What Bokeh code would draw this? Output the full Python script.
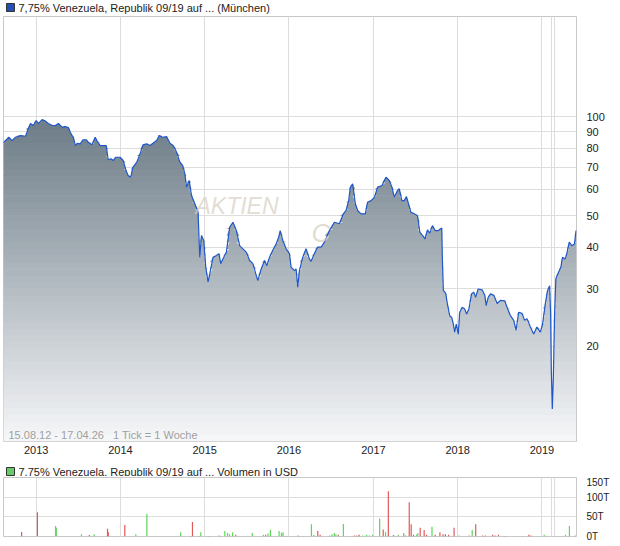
import numpy as np
from datetime import datetime
from bokeh.plotting import figure
from bokeh.models import (Range1d, FixedTicker, DatetimeAxis, LogAxis, LinearAxis, Grid, Label,
                          BoxAnnotation, DatetimeTickFormatter, CustomJSTickFormatter)
from bokeh.layouts import column
from bokeh.embed import file_html
from bokeh.resources import INLINE

# ---------------- data ----------------
price_year = [
    2012.610, 2012.676, 2012.716, 2012.755, 2012.814, 2012.874, 2012.913, 2012.933, 2012.968, 2013.000,
    2013.027, 2013.071, 2013.110, 2013.145, 2013.193, 2013.228, 2013.264, 2013.307, 2013.346, 2013.382,
    2013.405, 2013.426, 2013.441, 2013.465, 2013.488, 2013.524, 2013.556, 2013.595, 2013.618, 2013.662,
    2013.701, 2013.725, 2013.760, 2013.831, 2013.855, 2013.887, 2013.914, 2013.946, 2013.996, 2014.032,
    2014.067, 2014.091, 2014.123, 2014.147, 2014.194, 2014.233, 2014.268, 2014.312, 2014.351, 2014.387,
    2014.430, 2014.461, 2014.501, 2014.548, 2014.587, 2014.626, 2014.667, 2014.706, 2014.738, 2014.765,
    2014.785, 2014.816, 2014.844, 2014.883, 2014.922, 2014.934, 2014.942, 2014.962, 2014.989, 2015.013,
    2015.040, 2015.060, 2015.099, 2015.139, 2015.170, 2015.190, 2015.217, 2015.258, 2015.297, 2015.336,
    2015.376, 2015.415, 2015.454, 2015.494, 2015.533, 2015.572, 2015.612, 2015.631, 2015.671, 2015.710,
    2015.738, 2015.769, 2015.808, 2015.849, 2015.879, 2015.896, 2015.927, 2015.967, 2016.006, 2016.026,
    2016.065, 2016.085, 2016.104, 2016.124, 2016.163, 2016.203, 2016.242, 2016.262, 2016.301, 2016.340,
    2016.381, 2016.420, 2016.479, 2016.538, 2016.597, 2016.644, 2016.676, 2016.707, 2016.727, 2016.754,
    2016.786, 2016.813, 2016.853, 2016.904, 2016.931, 2016.972, 2017.011, 2017.050, 2017.102, 2017.149,
    2017.188, 2017.220, 2017.247, 2017.286, 2017.306, 2017.338, 2017.365, 2017.392, 2017.416, 2017.444,
    2017.483, 2017.522, 2017.551, 2017.581, 2017.613, 2017.641, 2017.669, 2017.700, 2017.732, 2017.771,
    2017.811, 2017.818, 2017.830, 2017.858, 2017.877, 2017.905, 2017.929, 2017.948, 2017.964, 2017.983,
    2018.007, 2018.024, 2018.054, 2018.083, 2018.106, 2018.133, 2018.165, 2018.193, 2018.213, 2018.243,
    2018.291, 2018.322, 2018.338, 2018.362, 2018.390, 2018.429, 2018.468, 2018.508, 2018.559, 2018.586,
    2018.626, 2018.665, 2018.693, 2018.724, 2018.763, 2018.795, 2018.822, 2018.863, 2018.902, 2018.941,
    2018.981, 2019.008, 2019.040, 2019.067, 2019.091, 2019.103, 2019.111, 2019.123, 2019.135, 2019.150,
    2019.165, 2019.197, 2019.224, 2019.244, 2019.276, 2019.295, 2019.324, 2019.354, 2019.386, 2019.405,
]
price = [
    83.2, 86.5, 84.5, 86.5, 87.5, 87.1, 92.8, 95.2, 93.9, 97.2,
    95.2, 97.9, 96.8, 95.2, 93.9, 93.9, 95.2, 92.8, 93.2, 92.6,
    89.6, 87.5, 86.5, 81.6, 82.9, 82.6, 85.0, 85.0, 83.5, 82.0,
    86.5, 84.1, 81.6, 81.6, 73.9, 74.4, 73.5, 75.2, 75.2, 73.5,
    68.5, 66.2, 65.4, 70.1, 72.6, 77.0, 82.0, 82.6, 81.6, 82.9,
    84.5, 87.5, 86.5, 86.9, 82.9, 81.6, 77.9, 72.6, 71.0, 66.9,
    61.0, 63.9, 57.5, 54.3, 51.2, 42.0, 37.3, 43.5, 42.0, 34.8,
    31.4, 33.2, 37.3, 37.8, 38.3, 35.7, 36.9, 38.7, 46.1, 47.7,
    45.0, 40.5, 39.6, 38.7, 36.5, 35.7, 32.9, 31.7, 34.4, 36.5,
    35.2, 37.3, 39.2, 41.0, 43.0, 45.0, 42.0, 39.6, 38.3, 34.8,
    34.0, 34.4, 30.3, 34.0, 37.3, 39.6, 36.9, 36.3, 38.3, 40.1,
    40.1, 41.5, 45.0, 47.7, 47.2, 50.6, 51.8, 55.5, 61.0, 62.4,
    54.3, 51.8, 50.6, 50.6, 54.9, 55.5, 56.8, 61.0, 61.7, 65.4,
    63.9, 61.0, 56.8, 59.6, 60.3, 55.5, 55.5, 57.1, 54.3, 51.2,
    50.6, 50.0, 44.5, 43.5, 42.5, 45.2, 44.2, 46.6, 45.0, 45.0,
    45.8, 36.9, 29.6, 29.0, 27.0, 24.8, 24.5, 23.4, 22.1, 23.4,
    21.8, 25.4, 26.3, 26.0, 25.1, 26.0, 28.9, 29.2, 28.2, 29.9,
    29.7, 28.6, 26.6, 28.2, 28.9, 28.6, 27.0, 27.6, 27.5, 26.3,
    24.8, 24.0, 22.4, 25.4, 25.2, 24.0, 24.3, 22.9, 21.8, 22.9,
    22.1, 23.4, 27.0, 29.6, 30.6, 25.1, 16.9, 12.9, 16.1, 25.1,
    32.1, 33.6, 34.8, 37.3, 36.9, 38.3, 41.5, 40.5, 41.0, 45.0,
]

vol_year = [
    2012.828, 2013.015, 2013.230, 2013.239, 2013.538, 2013.632, 2013.688, 2013.847, 2013.856, 2014.052,
    2014.183, 2014.314, 2014.715, 2014.837, 2014.855, 2014.930, 2014.954, 2015.052, 2015.173, 2015.239,
    2015.271, 2015.295, 2015.332, 2015.369, 2015.565, 2015.696, 2015.724, 2015.752, 2015.780, 2015.883,
    2015.911, 2015.930, 2015.977, 2016.107, 2016.173, 2016.266, 2016.294, 2016.341, 2016.369, 2016.481,
    2016.509, 2016.537, 2016.556, 2016.584, 2016.644, 2016.687, 2016.775, 2016.803, 2016.831, 2016.873,
    2016.920, 2016.953, 2016.990, 2017.074, 2017.116, 2017.144, 2017.177, 2017.238, 2017.294, 2017.359,
    2017.378, 2017.425, 2017.448, 2017.476, 2017.513, 2017.527, 2017.555, 2017.602, 2017.630, 2017.695,
    2017.733, 2017.789, 2017.826, 2017.854, 2017.892, 2017.957, 2018.018, 2018.135, 2018.172, 2018.214,
    2018.298, 2018.331, 2018.415, 2018.443, 2018.485, 2018.564, 2018.770, 2018.844, 2018.868, 2018.966,
    2019.027, 2019.279, 2019.326, 2019.396,
]
vol_k = [
    11.3, 61.6, 27, 22.5, 6, 3.5, 6, 20, 11, 29.5,
    6, 58, 11, 1, 37, 1, 11, 1, 2.6, 14,
    8.7, 6, 11, 4.3, 8.7, 4.3, 4.3, 7.8, 17, 14,
    9.5, 11, 1, 2.6, 1, 31, 3.5, 14, 4.3, 2.6,
    6, 8.7, 6, 4.3, 32, 1, 2.6, 2.6, 4.3, 2.6,
    4.3, 2.6, 4.3, 46, 18, 11, 115, 3.5, 4.3, 8.7,
    2.6, 87, 31, 4.3, 5.2, 8.7, 22, 16.5, 4.3, 25,
    4.3, 11, 6, 6, 4.3, 22, 2.6, 2.6, 16.5, 31,
    2.6, 2.6, 4.3, 2.6, 4.3, 1, 1, 4.3, 2.6, 1,
    4.3, 4.3, 27, 2.6,
]
vol_dir = list("ddnuududdd" "uuuddduddu" "uuuduuduuu" "uudduuuddu" "uuuduudddu"
               "uuuududduu" "ddddundddu" "ddddddudud" "dddddddddu" "uuuu")

year_ticks = [2013, 2014, 2015, 2016, 2017, 2018, 2019]
extra_grid_years = [2019.118, 2019.150]
price_ticks = [20, 30, 40, 50, 60, 70, 80, 90, 100]
vol_ticks = [0, 50, 100, 150]
x_span = [2012.6135, 2019.410]
price_span = [10.28, 201.4]
vol_span = [0, 150]

title_main = "7,75% Venezuela, Republik 09/19 auf ... (München)"
title_vol = "7,75% Venezuela, Republik 09/19 auf ... Volumen in USD"
info_text = "15.08.12 - 17.04.26\u00a0\u00a0\u00a01 Tick = 1 Woche"

# ---------------- helpers ----------------
EPOCH = datetime(1970, 1, 1)


def yr_to_ms(y):
    yr = int(np.floor(y))
    s, e = datetime(yr, 1, 1), datetime(yr + 1, 1, 1)
    d = s + (e - s) * (y - yr)
    return (d - EPOCH).total_seconds() * 1000.0


px = np.array([yr_to_ms(v) for v in price_year])
py = np.array(price, dtype=float)
vx = [yr_to_ms(v) for v in vol_year]
year_ms = [yr_to_ms(v) for v in year_ticks]
grid_ms = year_ms + [yr_to_ms(v) for v in extra_grid_years]

FONT = "Liberation Sans"
GRID = "#dddddd"
OUTLINE = "#c8c8c8"
W = 612

x_range = Range1d(yr_to_ms(x_span[0]), yr_to_ms(x_span[1]))


def title_strip(height, text, square_fill, text_y, sq_bottom, sq_top):
    t = figure(width=W, height=height, x_range=Range1d(0, W), y_range=Range1d(0, height),
               x_axis_location=None, y_axis_location=None, toolbar_location=None,
               output_backend="svg", min_border=0)
    t.outline_line_color = None
    t.background_fill_color = "white"
    t.border_fill_color = "white"
    t.grid.visible = False
    t.add_layout(BoxAnnotation(left=3, right=11, bottom=sq_bottom, top=sq_top,
                               left_units="screen", right_units="screen",
                               bottom_units="screen", top_units="screen",
                               fill_color=square_fill, fill_alpha=1.0,
                               line_color="#333333", line_width=1, line_alpha=1.0))
    t.add_layout(Label(x=15, y=text_y, x_units="screen", y_units="screen", text=text,
                       text_font=FONT, text_font_size="11px", text_color="#222222",
                       text_baseline="middle"))
    return t


# ---------------- main title strip ----------------
t_main = title_strip(15, title_main, "#2050b8", 8, 4, 12)

# ---------------- main price chart ----------------
p = figure(width=W, height=443, x_axis_type="datetime", y_axis_type="log",
           x_range=x_range, y_range=Range1d(*price_span),
           x_axis_location=None, y_axis_location=None,
           toolbar_location=None, output_backend="svg",
           min_border_left=3, min_border_right=34, min_border_top=1, min_border_bottom=17)
p.outline_line_color = OUTLINE
p.background_fill_color = "white"
p.border_fill_color = "white"
p.grid.visible = False

p.add_layout(Grid(dimension=0, ticker=FixedTicker(ticks=grid_ms), grid_line_color=GRID))
p.add_layout(Grid(dimension=1, ticker=FixedTicker(ticks=price_ticks), grid_line_color=GRID))

xax = DatetimeAxis(ticker=FixedTicker(ticks=year_ms),
                   formatter=DatetimeTickFormatter(years="%Y", months="%Y", days="%Y", hours="%Y",
                                                   hourmin="%Y", minutes="%Y", minsec="%Y", seconds="%Y",
                                                   milliseconds="%Y", microseconds="%Y"),
                   axis_line_color=None, major_tick_line_color=None, minor_tick_line_color=None,
                   major_label_standoff=-2, major_label_text_font=FONT,
                   major_label_text_font_size="11px", major_label_text_color="#222222")
p.add_layout(xax, "below")

yax = LogAxis(ticker=FixedTicker(ticks=price_ticks),
              formatter=CustomJSTickFormatter(code="return String(Math.round(tick));"),
              axis_line_color=None, major_tick_line_color=None, minor_tick_line_color=None,
              major_label_standoff=4, major_label_text_font=FONT,
              major_label_text_font_size="11px", major_label_text_color="#222222")
p.add_layout(yax, "right")

# gradient-filled area under the curve (horizontal bands in log space)
top_rgb = np.array([64, 84, 98], dtype=float)
bot_rgb = np.array([246, 247, 249], dtype=float)
N = 64
L0, L1 = np.log10(price_span[0]), np.log10(price_span[1])
edges = 10 ** np.linspace(L0, L1, N + 1)
for i in range(N):
    lo, hi = edges[i], edges[i + 1]
    t = (i + 0.5) / N
    c = bot_rgb + (top_rgb - bot_rgb) * t
    col = "#%02x%02x%02x" % tuple(int(round(v)) for v in c)
    y2 = np.clip(py, lo, hi * 1.004)
    p.varea(x=px, y1=np.full_like(py, lo), y2=y2, fill_color=col, fill_alpha=1.0)

p.line(px, py, line_color="#1f57c8", line_width=1.2)

# watermark
p.add_layout(Label(x=192, y=236, x_units="screen", y_units="screen", text="AKTIEN",
                   text_font=FONT, text_font_style="italic", text_font_size="23px",
                   text_color="#d6cec0", text_alpha=0.7, text_baseline="middle"))
p.add_layout(Label(x=308, y=209, x_units="screen", y_units="screen", text="C",
                   text_font=FONT, text_font_style="italic", text_font_size="26px",
                   text_color="#d6cec0", text_alpha=0.7, text_baseline="middle"))

p.add_layout(Label(x=5, y=7, x_units="screen", y_units="screen", text=info_text,
                   text_font=FONT, text_font_size="11px",
                   text_color="#a0a0a0", text_baseline="middle"))

# ---------------- volume title strip ----------------
t_vol = title_strip(18, title_vol, "#66cc66", 5, 1, 9)

# ---------------- volume chart ----------------
pv = figure(width=W, height=70, x_axis_type="datetime",
            x_range=x_range, y_range=Range1d(*vol_span),
            x_axis_location=None, y_axis_location=None,
            toolbar_location=None, output_backend="svg",
            min_border_left=3, min_border_right=34, min_border_top=1, min_border_bottom=10)
pv.outline_line_color = OUTLINE
pv.background_fill_color = "white"
pv.border_fill_color = "white"
pv.grid.visible = False
pv.add_layout(Grid(dimension=0, ticker=FixedTicker(ticks=grid_ms), grid_line_color=GRID))
pv.add_layout(Grid(dimension=1, ticker=FixedTicker(ticks=vol_ticks), grid_line_color=GRID))

vyax = LinearAxis(ticker=FixedTicker(ticks=vol_ticks),
                  formatter=CustomJSTickFormatter(code="return String(Math.round(tick)) + 'T';"),
                  axis_line_color=None, major_tick_line_color=None, minor_tick_line_color=None,
                  major_label_standoff=4, major_label_text_font=FONT,
                  major_label_text_font_size="10px", major_label_text_color="#222222")
pv.add_layout(vyax, "right")

dir_color = {"u": "#5cd65c", "d": "#e05a5a", "n": "#aaaaaa"}
vcols = [dir_color[d] for d in vol_dir]
pv.segment(x0=vx, y0=[0] * len(vx), x1=vx, y1=vol_k, line_color=vcols, line_width=1.2)

layout = column(t_main, p, t_vol, pv)

open("out.html", "w").write(file_html(layout, INLINE))
